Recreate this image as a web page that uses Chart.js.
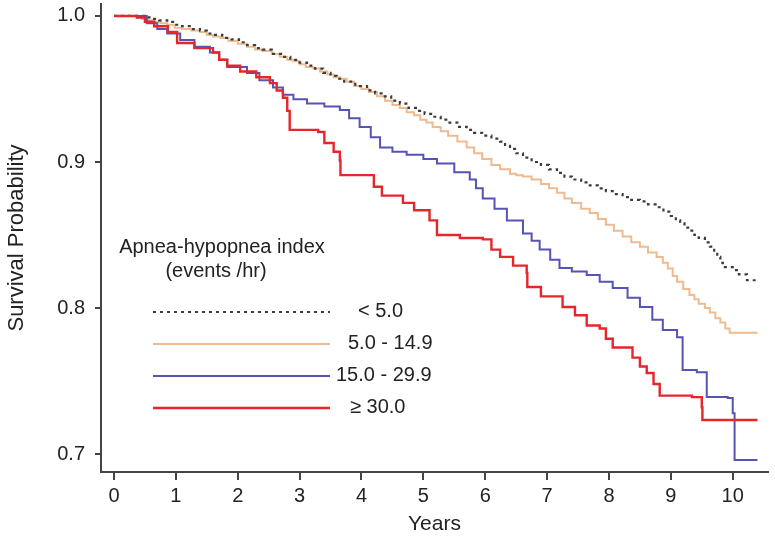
<!DOCTYPE html>
<html>
<head>
<meta charset="utf-8">
<script src="https://cdn.jsdelivr.net/npm/chart.js@4/dist/chart.umd.min.js"></script>
<style>
  html, body { margin: 0; padding: 0; background: #ffffff; }
  #wrap { width: 775px; height: 540px; position: relative; }
</style>
</head>
<body>
<div id="wrap"><canvas id="c" width="775" height="540"></canvas></div>
<script>
// ---- Data ----
const seriesNames = ["< 5.0", "5.0 - 14.9", "15.0 - 29.9", "\u2265 30.0"];
const legendTitle = ["Apnea-hypopnea index", "(events /hr)"];
const xTickValues = [0, 1, 2, 3, 4, 5, 6, 7, 8, 9, 10];
const yTickValues = [0.7, 0.8, 0.9, 1.0];

const yearsLow = [0, 0.37, 0.5, 0.6, 0.73, 0.86, 0.98, 1.1, 1.25, 1.39, 1.5, 1.6, 1.75, 1.9, 2.02, 2.15, 2.28, 2.4, 2.55, 2.7, 2.85, 3.0, 3.12, 3.25, 3.38, 3.5, 3.6, 3.72, 3.9, 4.09, 4.22, 4.35, 4.48, 4.62, 4.76, 4.9, 5.02, 5.15, 5.28, 5.4, 5.55, 5.7, 5.82, 5.95, 6.1, 6.24, 6.32, 6.4, 6.5, 6.61, 6.75, 6.9, 7.03, 7.16, 7.28, 7.4, 7.55, 7.69, 7.82, 7.95, 8.08, 8.22, 8.36, 8.5, 8.63, 8.77, 8.88, 9.0, 9.08, 9.15, 9.22, 9.3, 9.38, 9.45, 9.55, 9.63, 9.7, 9.75, 9.8, 9.84, 10.0, 10.1, 10.23, 10.4];
const survLow  = [1.0, 1.0, 0.999, 0.998, 0.997, 0.996, 0.994, 0.993, 0.991, 0.990, 0.988, 0.987, 0.985, 0.984, 0.982, 0.980, 0.978, 0.977, 0.974, 0.972, 0.970, 0.968, 0.966, 0.964, 0.961, 0.959, 0.957, 0.955, 0.952, 0.949, 0.947, 0.945, 0.942, 0.940, 0.937, 0.935, 0.933, 0.931, 0.929, 0.927, 0.924, 0.922, 0.920, 0.918, 0.916, 0.914, 0.911, 0.909, 0.906, 0.903, 0.900, 0.898, 0.895, 0.8925, 0.890, 0.888, 0.886, 0.884, 0.882, 0.880, 0.878, 0.876, 0.874, 0.873, 0.871, 0.869, 0.866, 0.863, 0.860, 0.858, 0.855, 0.853, 0.850, 0.848, 0.845, 0.842, 0.838, 0.835, 0.831, 0.828, 0.826, 0.823, 0.819, 0.819];

const yearsMild = [0, 0.37, 0.45, 0.55, 0.65, 0.75, 0.86, 0.98, 1.1, 1.25, 1.39, 1.5, 1.6, 1.72, 1.85, 2.0, 2.15, 2.28, 2.4, 2.55, 2.68, 2.8, 2.9, 3.0, 3.1, 3.22, 3.33, 3.45, 3.55, 3.65, 3.76, 3.88, 4.0, 4.12, 4.25, 4.38, 4.5, 4.62, 4.73, 4.85, 4.95, 5.05, 5.15, 5.28, 5.4, 5.55, 5.7, 5.82, 5.95, 6.1, 6.24, 6.4, 6.5, 6.61, 6.75, 6.9, 7.03, 7.16, 7.28, 7.4, 7.55, 7.69, 7.82, 7.95, 8.08, 8.22, 8.36, 8.5, 8.63, 8.77, 8.87, 8.95, 9.03, 9.1, 9.2, 9.3, 9.38, 9.45, 9.55, 9.63, 9.72, 9.8, 9.88, 9.95, 10.4];
const survMild  = [1.0, 0.999, 0.998, 0.997, 0.996, 0.995, 0.994, 0.992, 0.991, 0.990, 0.989, 0.987, 0.986, 0.985, 0.983, 0.981, 0.979, 0.977, 0.976, 0.974, 0.972, 0.970, 0.969, 0.967, 0.965, 0.964, 0.962, 0.960, 0.958, 0.957, 0.955, 0.952, 0.950, 0.948, 0.945, 0.942, 0.939, 0.937, 0.934, 0.932, 0.929, 0.927, 0.924, 0.921, 0.918, 0.914, 0.910, 0.906, 0.902, 0.898, 0.895, 0.892, 0.891, 0.890, 0.888, 0.885, 0.882, 0.879, 0.875, 0.872, 0.868, 0.865, 0.861, 0.857, 0.853, 0.849, 0.845, 0.842, 0.838, 0.835, 0.831, 0.827, 0.822, 0.818, 0.813, 0.809, 0.806, 0.803, 0.800, 0.797, 0.793, 0.790, 0.786, 0.783, 0.783];

const yearsMod = [0, 0.37, 0.53, 0.7, 0.86, 1.07, 1.3, 1.55, 1.7, 1.83, 2.15, 2.35, 2.57, 2.73, 2.9, 3.12, 3.4, 3.65, 3.8, 3.97, 4.15, 4.3, 4.5, 4.73, 5.0, 5.22, 5.5, 5.75, 5.85, 5.96, 6.15, 6.35, 6.61, 6.75, 6.88, 7.05, 7.2, 7.4, 7.64, 7.85, 8.06, 8.3, 8.5, 8.7, 8.87, 9.1, 9.19, 9.42, 9.58, 9.92, 10.0, 10.03, 10.4];
const survMod  = [1.0, 1.0, 0.995, 0.991, 0.988, 0.9836, 0.979, 0.975, 0.970, 0.965, 0.961, 0.956, 0.951, 0.946, 0.943, 0.940, 0.938, 0.9356, 0.930, 0.924, 0.917, 0.910, 0.907, 0.905, 0.902, 0.899, 0.893, 0.888, 0.882, 0.875, 0.868, 0.860, 0.851, 0.846, 0.840, 0.833, 0.8274, 0.825, 0.8226, 0.818, 0.8137, 0.807, 0.8007, 0.792, 0.785, 0.780, 0.7575, 0.756, 0.739, 0.7384, 0.728, 0.6959, 0.6959];

const yearsSev = [0, 0.37, 0.5, 0.65, 0.87, 1.02, 1.3, 1.6, 1.7, 1.83, 2.04, 2.3, 2.52, 2.63, 2.73, 2.8, 2.84, 3.3, 3.4, 3.55, 3.65, 3.66, 4.05, 4.2, 4.33, 4.67, 4.85, 5.1, 5.22, 5.59, 5.96, 6.1, 6.24, 6.45, 6.67, 6.68, 6.9, 7.25, 7.45, 7.64, 7.85, 7.95, 8.06, 8.38, 8.5, 8.61, 8.72, 8.82, 9.34, 9.5, 9.51, 10.4];
const survSev  = [1.0, 0.999, 0.996, 0.993, 0.989, 0.9815, 0.978, 0.975, 0.970, 0.966, 0.962, 0.958, 0.954, 0.949, 0.944, 0.935, 0.922, 0.9205, 0.913, 0.907, 0.901, 0.891, 0.891, 0.883, 0.877, 0.872, 0.867, 0.860, 0.850, 0.848, 0.847, 0.840, 0.835, 0.829, 0.824, 0.8144, 0.808, 0.8007, 0.795, 0.788, 0.786, 0.779, 0.773, 0.766, 0.760, 0.7555, 0.748, 0.740, 0.739, 0.732, 0.7233, 0.7233];

const colLow = '#3c3c3c', colMild = '#efbb8e', colMod = '#5753b5', colSev = '#e5262b';
const AXIS = '#444444';
const FONT = '"Liberation Sans", Arial, Helvetica, sans-serif';

function pts(xs, ys) { return xs.map((x, i) => ({ x: x, y: ys[i] })); }

const legendPlugin = {
  id: 'kmLegend',
  afterDraw(chart) {
    const ctx = chart.ctx;
    ctx.save();
    ctx.font = '20px ' + FONT;
    ctx.fillStyle = '#222';
    ctx.textBaseline = 'middle';
    ctx.textAlign = 'center';
    ctx.fillText(legendTitle[0], 222, 247);
    ctx.fillText(legendTitle[1], 216, 271);
    const rows = [
      { y: 312, c: colLow, dash: [3, 4], w: 2, tx: 358 },
      { y: 344, c: colMild, dash: [], w: 2, tx: 348 },
      { y: 376, c: colMod, dash: [], w: 2, tx: 336 },
      { y: 408, c: colSev, dash: [], w: 2.4, tx: 350 }
    ];
    ctx.textAlign = 'left';
    rows.forEach((r, i) => {
      ctx.beginPath();
      ctx.setLineDash(r.dash);
      ctx.strokeStyle = r.c;
      ctx.lineWidth = r.w;
      ctx.moveTo(153, r.y);
      ctx.lineTo(330, r.y);
      ctx.stroke();
      ctx.setLineDash([]);
      ctx.fillText(seriesNames[i], r.tx, r.y - 1);
    });
    ctx.restore();
  }
};

new Chart(document.getElementById('c'), {
  type: 'line',
  data: {
    datasets: [
      { label: seriesNames[3], data: pts(yearsSev, survSev), borderColor: colSev, borderWidth: 2.4, stepped: true, pointRadius: 0, fill: false, order: 1 },
      { label: seriesNames[2], data: pts(yearsMod, survMod), borderColor: colMod, borderWidth: 2, stepped: true, pointRadius: 0, fill: false, order: 2 },
      { label: seriesNames[0], data: pts(yearsLow, survLow), borderColor: colLow, borderWidth: 2.2, borderDash: [3, 4], stepped: true, pointRadius: 0, fill: false, order: 3 },
      { label: seriesNames[1], data: pts(yearsMild, survMild), borderColor: colMild, borderWidth: 2, stepped: true, pointRadius: 0, fill: false, order: 4 }
    ]
  },
  options: {
    responsive: false,
    animation: false,
    layout: { padding: { top: 4, right: 7, left: 0, bottom: 0 } },
    plugins: { legend: { display: false }, tooltip: { enabled: false } },
    scales: {
      x: {
        type: 'linear',
        min: -0.21,
        max: 10.57,
        afterBuildTicks: s => { s.ticks = xTickValues.map(v => ({ value: v })); },
        afterFit: s => { s.height = 68; s.paddingLeft = 0; s.paddingRight = 0; },
        grid: { display: true, drawOnChartArea: false, drawTicks: true, tickLength: 8, color: AXIS, lineWidth: 2 },
        border: { display: true, color: AXIS, width: 2 },
        ticks: { color: '#222', padding: 4, font: { family: FONT, size: 20 }, maxRotation: 0, autoSkip: false, callback: v => String(v) },
        title: { display: true, text: 'Years', color: '#222', font: { family: FONT, size: 21 }, padding: { top: 0, bottom: 3 } }
      },
      y: {
        type: 'linear',
        min: 0.6877,
        max: 1.0082,
        afterBuildTicks: s => { s.ticks = yTickValues.map(v => ({ value: v })); },
        afterFit: s => { s.width = 101; s.paddingTop = 0; s.paddingBottom = 0; },
        grid: { display: true, drawOnChartArea: false, drawTicks: true, tickLength: 6, color: AXIS, lineWidth: 2 },
        border: { display: true, color: AXIS, width: 2 },
        ticks: { color: '#222', padding: 10, font: { family: FONT, size: 20 }, callback: v => Number(v).toFixed(1) },
        title: { display: true, text: 'Survival Probability', color: '#222', font: { family: FONT, size: 22 }, padding: { top: 4, bottom: 0 } }
      }
    }
  },
  plugins: [legendPlugin]
});
</script>
</body>
</html>
